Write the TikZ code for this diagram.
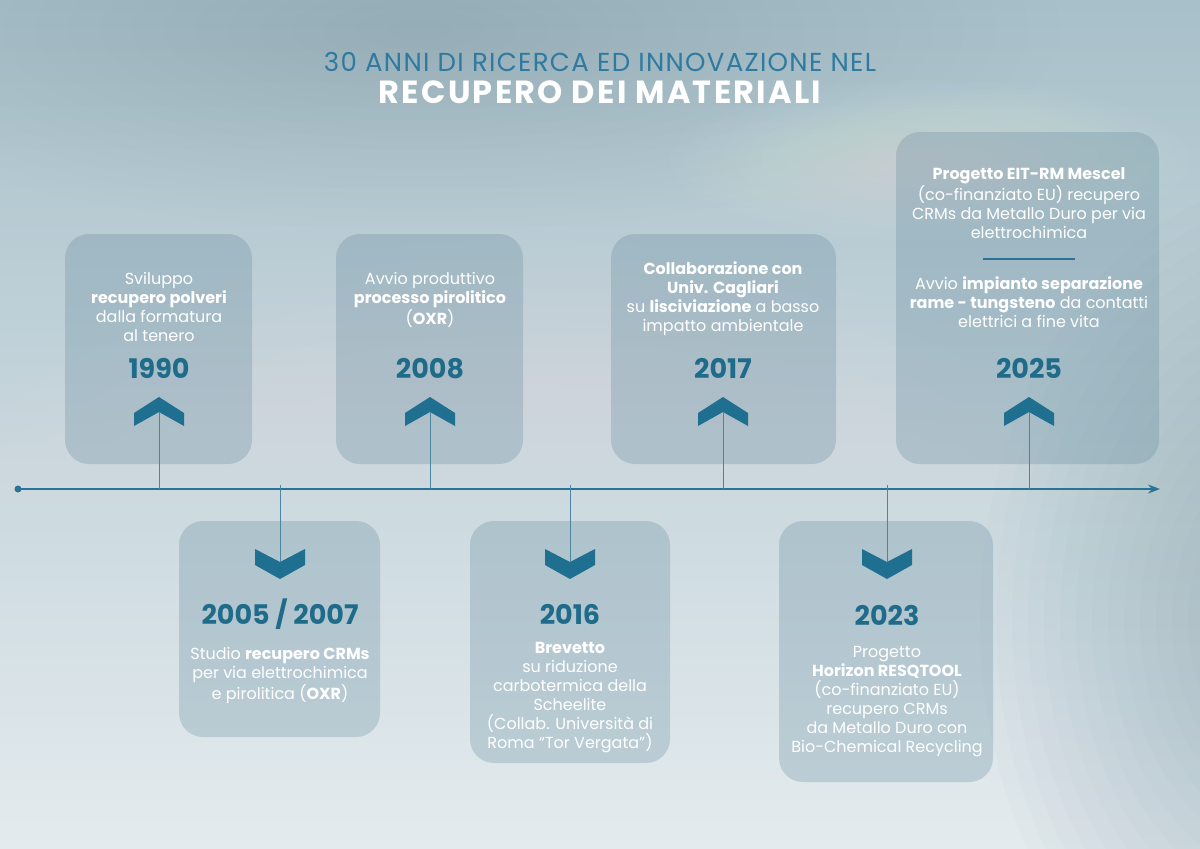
\documentclass[tikz,border=0pt]{standalone}
\usepackage{fontspec}
\setmainfont{Poppins}
\usepackage{tikz}
\usetikzlibrary{arrows.meta}

\definecolor{bgtop}{HTML}{A8C0CA}
\definecolor{bgmid}{HTML}{CFDBE0}
\definecolor{bgbottom}{HTML}{E4EBEE}
\definecolor{bgright}{HTML}{7F9CAA}
\definecolor{boxblue}{HTML}{5D8599}
\definecolor{yearblue}{HTML}{1F6B8A}
\definecolor{chevblue}{HTML}{1F7090}
\definecolor{axisblue}{HTML}{2A7396}
\definecolor{linkblue}{HTML}{4A86A0}
\definecolor{titleblue}{HTML}{2F7AA0}

% chevron pointing up, apex at #1
\newcommand{\chevup}[1]{\fill[chev] (#1) -- ++(25,16) -- ++(0,13) -- ++(-25,-14) -- ++(-25,14) -- ++(0,-13) -- cycle;}
% chevron pointing down, apex at #1
\newcommand{\chevdown}[1]{\fill[chev] (#1) -- ++(25,-14) -- ++(0,-16) -- ++(-25,13) -- ++(-25,-13) -- ++(0,16) -- cycle;}

\begin{document}
\begin{tikzpicture}[x=0.5pt,y=-0.5pt,
  box/.style={rectangle, rounded corners=12pt, fill=boxblue, fill opacity=0.27, draw=none, inner sep=0pt},
  info/.style={text=white, align=center, inner sep=0pt, anchor=north, font=\fontsize{8}{9.5}\selectfont},
  year/.style={text=yearblue, anchor=base, inner sep=0pt, font=\fontsize{13.5}{15}\selectfont\bfseries},
  chev/.style={fill=chevblue},
  link/.style={draw=linkblue, line width=0.5pt}]
  \useasboundingbox (0,0) rectangle (1200,848);

  % background: gradient and soft blobs of stacked ellipses
  \shade[top color=bgtop, middle color=bgmid, bottom color=bgbottom] (0,0) rectangle (1200,848);
  \begin{scope}
    \clip (0,0) rectangle (1200,848);
    \foreach \k in {1,...,20} \fill[white, opacity=0.02] (520,560) ellipse ({31*\k} and {16*\k});
    \foreach \k in {1,...,20} \fill[bgright, opacity=0.012] (420,30) ellipse ({32*\k} and {10*\k});
    \foreach \k in {1,...,20} \fill[white, opacity=0.02] (930,160) ellipse ({13*\k} and {4*\k});
    \foreach \k in {1,...,20} \fill[bgright, opacity=0.03] (1300,620) ellipse ({16*\k} and {22*\k});
  \end{scope}

  % title
  \node[anchor=base, text=titleblue, font=\fontsize{13}{15}\selectfont\addfontfeature{LetterSpace=5}] (title) at (600,71) {30 ANNI DI RICERCA ED INNOVAZIONE NEL};
  \node[anchor=base, text=white, font=\fontsize{16}{18}\selectfont\bfseries\addfontfeature{LetterSpace=7}] (subtitle) at (600,103) {RECUPERO DEI MATERIALI};

  % boxes above the axis
  \node[box, minimum width=93.5pt, minimum height=115pt] (b1990) at (158.5,349) {};
  \node[box, minimum width=93.5pt, minimum height=115pt] (b2008) at (429.5,349) {};
  \node[box, minimum width=112.5pt, minimum height=115pt] (b2017) at (723.5,349) {};
  \node[box, minimum width=131.5pt, minimum height=166pt] (b2025) at (1027.5,298) {};

  % boxes below the axis
  \node[box, minimum width=100.5pt, minimum height=108pt] (b2005) at (279.5,629) {};
  \node[box, minimum width=100pt, minimum height=121pt] (b2016) at (570,642) {};
  \node[box, minimum width=107pt, minimum height=130.5pt] (b2023) at (886,651.5) {};

  % texts
  \node[info] (t1990) at (159,272) {Sviluppo\\\textbf{recupero polveri}\\dalla formatura\\al tenero};
  \node[info] (t2008) at (430,272) {Avvio produttivo\\\textbf{processo pirolitico}\\(\textbf{OXR})};
  \node[info] (t2017) at (723,261) {\textbf{Collaborazione con}\\\textbf{Univ. Cagliari}\\su \textbf{lisciviazione} a basso\\impatto ambientale};
  \node[info] (t2025a) at (1029,167) {\textbf{Progetto EIT-RM Mescel}\\(co-finanziato EU) recupero\\CRMs da Metallo Duro per via\\elettrochimica};
  \node[info] (t2025b) at (1029,276) {Avvio \textbf{impianto separazione}\\\textbf{rame - tungsteno} da contatti\\elettrici a fine vita};
  \node[info] (t2005) at (280,647) {Studio \textbf{recupero CRMs}\\per via elettrochimica\\e pirolitica (\textbf{OXR})};
  \node[info] (t2016) at (570,642) {\textbf{Brevetto}\\su riduzione\\carbotermica della\\Scheelite\\(Collab. Università di\\Roma “Tor Vergata”)};
  \node[info] (t2023) at (887,646) {Progetto\\\textbf{Horizon RESQTOOL}\\(co-finanziato EU)\\recupero CRMs\\da Metallo Duro con\\Bio-Chemical Recycling};

  % separator in the 2025 box
  \coordinate (s1) at (983,259);
  \coordinate (s2) at (1075,259);
  \draw[axisblue, line width=0.6pt] (s1) -- (s2);

  % years
  \node[year] (y1990) at (159,378) {1990};
  \node[year] (y2008) at (430,378) {2008};
  \node[year] (y2017) at (723,378) {2017};
  \node[year] (y2025) at (1029,378) {2025};
  \node[year] (y2005) at (280,624) {2005 / 2007};
  \node[year] (y2016) at (570,624) {2016};
  \node[year] (y2023) at (887,625) {2023};

  % chevrons
  \chevup{159,397}
  \chevup{430,397}
  \chevup{723,397}
  \chevup{1029,397}
  \chevdown{280,579}
  \chevdown{570,579}
  \chevdown{887,579}

  % axis
  \coordinate (start) at (18,489);
  \coordinate (end) at (1160,489);
  \fill[axisblue] (start) circle (3.5);
  \draw[axisblue, line width=1pt, -{Stealth[length=6pt,width=4.5pt]}] (start) -- (end);

  % connectors from the chevrons to the axis
  \foreach \x in {159,430,723,1029} {
    \coordinate (n\x) at (\x,412);
    \coordinate (a\x) at (\x,489);
    \draw[link] (n\x) -- (a\x);
  }
  \foreach \x in {280,570,887} {
    \coordinate (n\x) at (\x,562);
    \coordinate (a\x) at (\x,485);
    \draw[link] (a\x) -- (n\x);
  }
\end{tikzpicture}
\end{document}
